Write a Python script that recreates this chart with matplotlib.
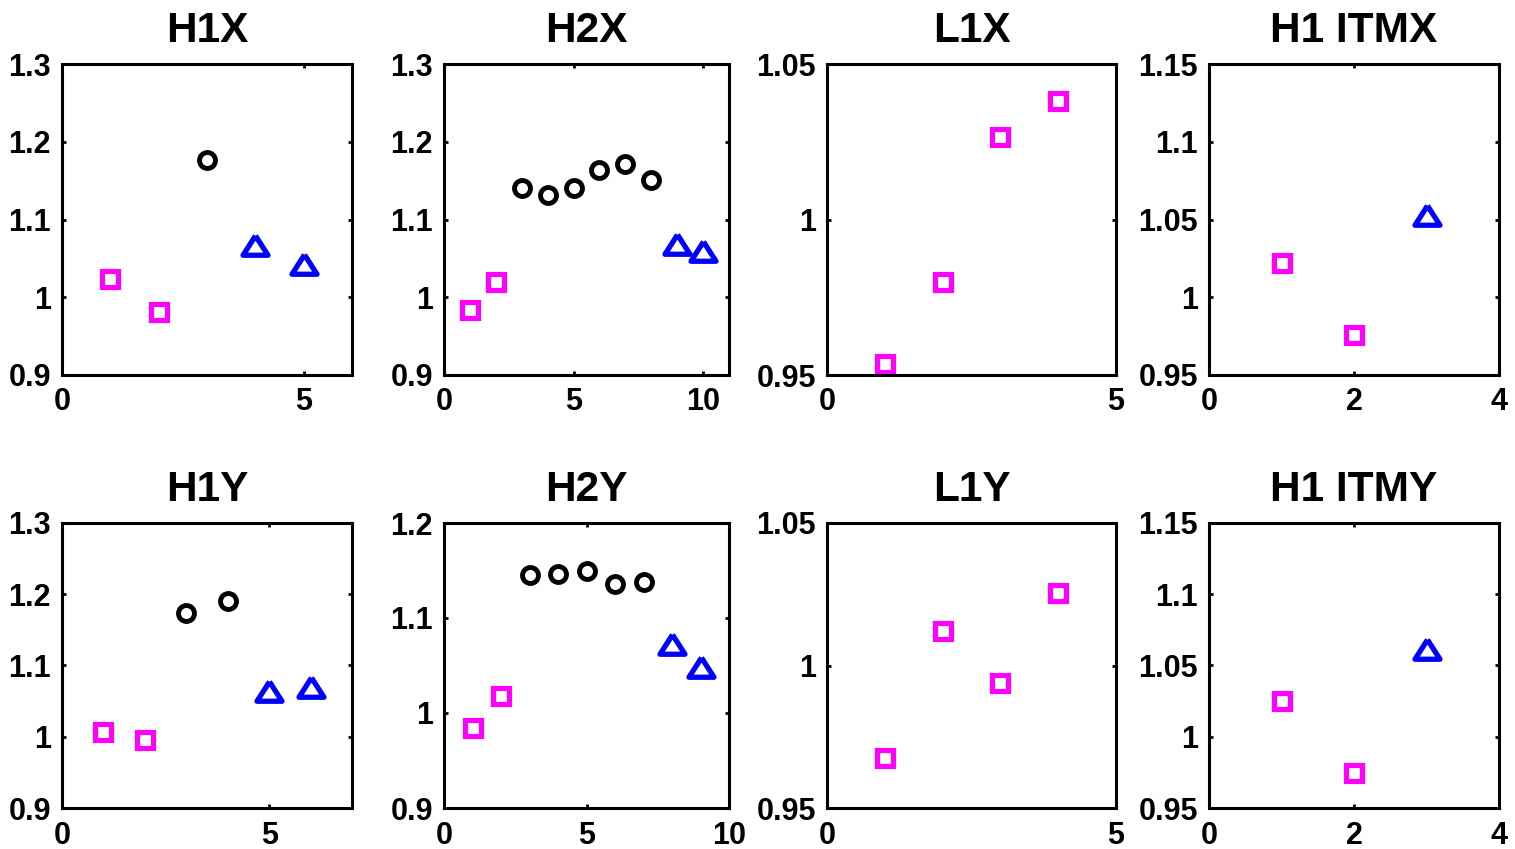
import matplotlib
matplotlib.use("Agg")
import matplotlib.pyplot as plt

plt.rcParams["font.family"] = ["Liberation Sans", "DejaVu Sans"]
plt.rcParams["font.weight"] = "bold"

# panel titles, in reading order
titles = ["H1X", "H2X", "L1X", "H1 ITMX", "H1Y", "H2Y", "L1Y", "H1 ITMY"]

# squares (magenta)
sq_x = [[1, 2], [1, 2], [1, 2, 3, 4], [1, 2],
        [1, 2], [1, 2], [1, 2, 3, 4], [1, 2]]
sq_y = [[1.024, 0.981], [0.983, 1.019], [0.9535, 0.9798, 1.0266, 1.0382], [1.022, 0.976],
        [1.0065, 0.9953], [0.9846, 1.018], [0.9676, 1.012, 0.9938, 1.0254], [1.025, 0.9748]]

# circles (black)
ci_x = [[3], [3, 4, 5, 6, 7, 8], [], [],
        [3, 4], [3, 4, 5, 6, 7], [], []]
ci_y = [[1.177], [1.140, 1.132, 1.141, 1.164, 1.171, 1.151], [], [],
        [1.1737, 1.190], [1.1453, 1.146, 1.1499, 1.1357, 1.1375], [], []]

# triangles (blue)
tr_x = [[4, 5], [9, 10], [], [3],
        [5, 6], [8, 9], [], [3]]
tr_y = [[1.067, 1.043], [1.069, 1.059], [], [1.053],
        [1.0638, 1.0699], [1.0722, 1.0485], [], [1.0619]]

# axis limits and ticks
xlims = [(0, 6), (0, 11), (0, 5), (0, 4), (0, 7), (0, 10), (0, 5), (0, 4)]
xticks = [[0, 5], [0, 5, 10], [0, 5], [0, 2, 4], [0, 5], [0, 5, 10], [0, 5], [0, 2, 4]]
ylims = [(0.9, 1.3), (0.9, 1.3), (0.95, 1.05), (0.95, 1.15),
         (0.9, 1.3), (0.9, 1.2), (0.95, 1.05), (0.95, 1.15)]
yticks = [[0.9, 1, 1.1, 1.2, 1.3], [0.9, 1, 1.1, 1.2, 1.3], [0.95, 1, 1.05],
          [0.95, 1, 1.05, 1.1, 1.15],
          [0.9, 1, 1.1, 1.2, 1.3], [0.9, 1, 1.1, 1.2], [0.95, 1, 1.05],
          [0.95, 1, 1.05, 1.1, 1.15]]

W, H = 1515, 849
fig = plt.figure(figsize=(W / 100, H / 100), dpi=100)

lefts = [62, 444, 827, 1209]
widths = [290, 285, 289, 290]
rows = [(64, 375), (523, 808)]

tri = [(0, 0.78), (-1, -0.78), (1, -0.78), (0, 0.78)]

for i in range(8):
    r, c = divmod(i, 4)
    top, bot = rows[r]
    ax = fig.add_axes([lefts[c] / W, 1 - bot / H, widths[c] / W, (bot - top) / H])
    ax.plot(sq_x[i], sq_y[i], linestyle="none", marker="s", markersize=12,
            markerfacecolor="none", markeredgecolor="#ff00ff", markeredgewidth=3.7)
    if ci_x[i]:
        ax.plot(ci_x[i], ci_y[i], linestyle="none", marker="o", markersize=11.5,
                markerfacecolor="none", markeredgecolor="black", markeredgewidth=3.5)
    if tr_x[i]:
        ax.plot(tr_x[i], tr_y[i], linestyle="none", marker=tri, markersize=18,
                markerfacecolor="none", markeredgecolor="#0000ff", markeredgewidth=3.8)
    ax.set_xlim(*xlims[i])
    ax.set_ylim(*ylims[i])
    ax.set_xticks(xticks[i])
    ax.set_xticklabels(["%g" % v for v in xticks[i]])
    ax.set_yticks(yticks[i])
    ax.set_yticklabels(["%g" % v for v in yticks[i]])
    ax.tick_params(direction="in", length=3, width=2, labelsize=22,
                   top=True, right=True)
    ax.tick_params(axis="x", pad=9)
    ax.tick_params(axis="y", pad=8)
    for lab in ax.get_xticklabels() + ax.get_yticklabels():
        lab.set_fontweight("bold")
    for sp in ax.spines.values():
        sp.set_linewidth(2.2)
    ax.set_title(titles[i], fontsize=30.5, fontweight="bold", pad=16)

fig.savefig("out.png", dpi=100)
